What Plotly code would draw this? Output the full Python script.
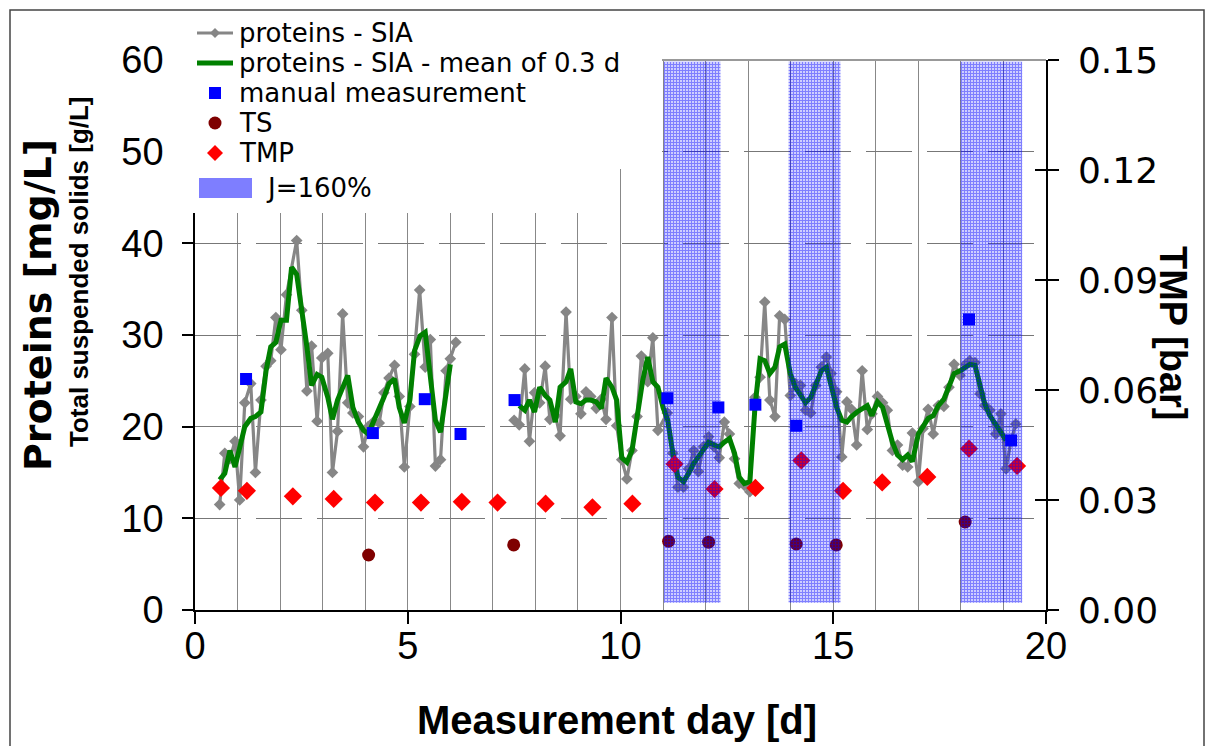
import plotly.graph_objects as go

# ---------------- data ----------------
sia_day = [0.58, 0.70, 0.82, 0.94, 1.05, 1.17, 1.31, 1.42, 1.55, 1.67, 1.78, 1.90, 2.02, 2.15,
           2.39, 2.51, 2.63, 2.74, 2.87, 2.98, 3.12, 3.23, 3.35, 3.47, 3.59, 3.71, 3.84, 3.96,
           4.07, 4.19, 4.33, 4.44, 4.56, 4.69, 4.80, 4.92, 5.05, 5.16, 5.28, 5.41, 5.53, 5.65,
           5.77, 5.90, 6.00, 6.13, None,
           7.50, 7.62, 7.75, 7.86, 7.98, 8.10, 8.23, 8.34, 8.47, 8.58, 8.72, 8.83, 8.95, 9.07,
           9.19, 9.30, 9.43, 9.55, 9.66, 9.80, 9.91, 10.03, 10.15, 10.27, 10.39, 10.49, 10.64,
           10.76, 10.88, 11.10, 11.23, 11.35, 11.48, 11.60, 11.72, 11.83, 11.95, 12.07, 12.20,
           12.32, 12.44, 12.56, 12.68, 12.79, 12.91, 13.04, 13.16, 13.28, 13.39, 13.51, 13.63,
           13.74, 13.86, 13.99, 14.11, 14.23, 14.35, 14.47, 14.59, 14.72, 14.84, 14.95, 15.08,
           15.20, 15.32, 15.43, 15.55, 15.68, 15.80, 15.91, 16.04, 16.16, 16.27, 16.39, 16.51,
           16.63, 16.75, 16.86, 17.00, 17.11, 17.23, 17.35, 17.47, 17.60, 17.72, 17.84, 17.98,
           18.11, 18.21, 18.33, 18.45, 18.56, 18.68, 18.82, 18.94, 19.06, 19.18, 19.29]
sia_val = [11.5, 17.1, 16.5, 18.4, 12.0, 22.6, 24.7, 15.0, 22.9, 26.6, 27.2, 31.9, 28.4, 34.4,
           40.3, 32.7, 23.9, 28.8, 20.6, 27.5, 28.0, 15.0, 19.5, 32.3, 22.6, 21.5, 21.1, 17.8,
           20.0, 20.5, 20.4, 23.7, 25.3, 26.7, 23.3, 15.6, 22.2, 27.9, 34.9, 26.5, 29.5, 15.7,
           16.4, 26.1, 27.4, 29.2, None,
           20.7, 20.2, 26.3, 18.4, 23.7, 22.6, 26.6, 20.8, 21.2, 19.0, 32.5, 23.0, 23.3, 21.4,
           23.8, 23.3, 22.0, 23.0, 20.8, 31.9, 20.1, 16.4, 14.3, 17.4, 21.1, 27.7, 24.9,
           29.7, 19.6, 21.5, 17.1, 13.4, 13.4, 15.4, 17.4, 15.1, 17.8, 18.9, 17.8,
           16.6, 20.5, 19.2, 16.5, 13.8, 13.6, 12.9, 23.2, 25.4, 33.6, 22.9, 21.1,
           32.1, 31.7, 23.4, 24.7, 24.5, 21.8, 21.5, 24.5, 26.5, 27.6, 25.8, 23.8,
           16.7, 22.7, 21.9, 18.0, 26.1, 19.7, 21.4, 23.3, 22.6, 21.8, 17.4, 18.0,
           15.8, 15.6, 19.3, 14.0, 19.8, 21.9, 19.2, 22.3, 22.2, 24.3, 26.8, 25.6,
           26.8, 27.2, 27.0, 23.6, 22.3, 21.8, 19.2, 21.4, 15.4, 18.5, 20.3]

mean_day = [0.58, 0.70, 0.82, 0.94, 1.17, 1.31, 1.42, 1.55, 1.67, 1.78, 1.90, 2.02, 2.15, 2.27,
            2.39, 2.51, 2.63, 2.74, 2.87, 2.98, 3.12, 3.23, 3.35, 3.59, 3.71, 3.84, 3.96, 4.07,
            4.19, 4.33, 4.44, 4.56, 4.69, 4.80, 4.92, 5.05, 5.16, 5.29, 5.41, 5.65, 5.77, 5.90,
            6.00, None,
            7.62, 7.75, 7.86, 7.98, 8.10, 8.23, 8.34, 8.47, 8.58, 8.72, 8.83, 8.95, 9.07, 9.19,
            9.30, 9.43, 9.55, 9.66, 9.80, 9.91, 10.03, 10.15, 10.27, 10.39, 10.52, 10.64, 10.76,
            10.88, 11.00, 11.11, 11.23, 11.35, 11.48, 11.60, 11.72, 11.83, 11.95, 12.07, 12.20,
            12.32, 12.44, 12.56, 12.68, 12.79, 12.91, 13.04, 13.16, 13.28, 13.39, 13.51, 13.63,
            13.74, 13.86, 13.99, 14.11, 14.35, 14.47, 14.59, 14.72, 14.84, 14.95, 15.08, 15.20,
            15.32, 15.43, 15.56, 15.80, 15.91, 16.04, 16.16, 16.39, 16.51, 16.63, 16.75, 16.86,
            17.00, 17.11, 17.23, 17.35, 17.47, 17.60, 17.72, 17.84, 17.98, 18.11, 18.21, 18.33,
            18.45, 18.56, 18.68, 18.82, 18.94, 19.06]
mean_val = [14.2, 14.9, 17.4, 15.6, 20.0, 20.9, 21.1, 21.6, 26.1, 28.7, 29.2, 31.6, 31.6, 37.4,
            36.6, 32.8, 28.7, 24.5, 25.7, 25.4, 23.2, 20.8, 22.9, 25.6, 22.1, 20.5, 19.6, 19.2,
            20.5, 21.8, 23.2, 24.7, 25.2, 22.1, 20.4, 22.9, 28.3, 29.9, 30.3, 20.7, 19.4, 23.6,
            26.8, None,
            22.3, 21.8, 22.9, 21.6, 24.3, 23.4, 22.9, 20.5, 24.3, 24.9, 26.3, 22.7, 22.5, 22.9,
            22.9, 22.7, 22.0, 25.3, 24.3, 22.9, 16.6, 16.1, 17.4, 21.4, 25.0, 27.6, 24.9,
            24.3, 22.1, 20.7, 17.1, 14.5, 14.0, 14.9, 16.0, 16.7, 17.4, 18.3, 18.0,
            17.8, 18.3, 18.7, 17.1, 14.5, 13.8, 14.0, 22.1, 27.4, 27.2, 25.8, 26.5,
            28.7, 29.0, 25.8, 24.3, 22.6, 23.2, 24.7, 26.1, 26.5, 24.7, 22.1, 20.7,
            20.5, 21.1, 21.6, 22.3, 21.2, 22.7, 22.1, 18.3, 16.9, 16.4, 16.9, 16.2,
            19.2, 20.0, 20.9, 21.2, 22.3, 23.0, 24.3, 25.8, 26.1, 26.5, 26.8, 26.7,
            24.3, 22.5, 21.2, 20.3, 19.4, 18.5]

manual_day = [1.20, 4.18, 5.40, 6.24, 7.51, 11.10, 12.30, 13.17, 14.13, 18.19, 19.18]
manual_val = [25.2, 19.3, 23.0, 19.2, 22.9, 23.1, 22.1, 22.4, 20.1, 31.7, 18.5]

ts_day = [4.08, 7.49, 11.13, 12.07, 14.13, 15.07, 18.10]
ts_val = [6.0, 7.1, 7.5, 7.4, 7.2, 7.1, 9.6]

tmp_day = [0.61, 1.22, 2.30, 3.26, 4.23, 5.31, 6.27, 7.11, 8.24, 9.34, 10.28, 11.27, 12.21,
           13.17, 14.25, 15.23, 16.15, 17.21, 18.19, 19.32]
tmp_val = [0.0333, 0.0325, 0.0310, 0.0303, 0.0293, 0.0293, 0.0295, 0.0293, 0.0290, 0.0280,
           0.0290, 0.0398, 0.0330, 0.0333, 0.0408, 0.0325, 0.0348, 0.0363, 0.0440, 0.0393]

# periods with J = 160 %
j_start = [11.02, 13.95, 17.99]
j_end = [12.35, 15.17, 19.44]
j_low = 0.8
j_high = 59.8

x_ticks = [0, 5, 10, 15, 20]
y_ticks = [0, 10, 20, 30, 40, 50, 60]
y2_ticks = [0.00, 0.03, 0.06, 0.09, 0.12, 0.15]

# ---------------- layout helpers (screen px -> paper) ----------------
OFF = 8                      # default page margin of the html body
W, H = 1205, 738
ML, MT, PW, PH = 187, 52, 851, 550
MR, MB = W - ML - PW, H - MT - PH
FONT = "Liberation Sans, Arial, sans-serif"
FONT_W = "DejaVu Sans, Verdana, sans-serif"


def px(x):
    return (x - OFF - ML) / PW


def py(y):
    return (MT + PH - (y - OFF)) / PH


fig = go.Figure()

fig.add_trace(go.Scatter(
    x=sia_day, y=sia_val, mode="lines+markers", name="proteins - SIA",
    line=dict(color="#868686", width=3.2),
    marker=dict(symbol="diamond", size=9, color="#868686"),
    connectgaps=False, showlegend=False))
fig.add_trace(go.Scatter(
    x=mean_day, y=mean_val, mode="lines", name="proteins - SIA - mean of 0.3 d",
    line=dict(color="#008000", width=5), connectgaps=False, showlegend=False))
fig.add_trace(go.Scatter(
    x=manual_day, y=manual_val, mode="markers", name="manual measurement",
    marker=dict(symbol="square", size=12, color="#0000ff"), showlegend=False))
fig.add_trace(go.Scatter(
    x=ts_day, y=ts_val, mode="markers", name="TS",
    marker=dict(symbol="circle", size=13, color="#7f0000"), showlegend=False))
fig.add_trace(go.Scatter(
    x=tmp_day, y=tmp_val, mode="markers", name="TMP", yaxis="y2",
    marker=dict(symbol="diamond", size=14, color="#ff0000"), showlegend=False))

j_mid = [(a + b) / 2 for a, b in zip(j_start, j_end)]
j_wid = [b - a for a, b in zip(j_start, j_end)]
fig.add_trace(go.Bar(
    x=j_mid, y=[j_high - j_low] * len(j_mid), base=j_low, width=j_wid, yaxis="y3",
    name="J=160%", showlegend=False, hoverinfo="skip",
    marker=dict(color="rgba(0,0,0,0)", line=dict(width=0),
                pattern=dict(shape="+", fgcolor="#0000ff", bgcolor="rgba(0,0,0,0)",
                             size=3, solidity=0.7))))

tickfont = dict(family=FONT, size=38, color="black")
tickfont_r = dict(family=FONT_W, size=36, color="black")
fig.update_layout(
    width=W, height=H, margin=dict(l=ML, r=MR, t=MT, b=MB, autoexpand=False),
    paper_bgcolor="white", plot_bgcolor="white", showlegend=False,
    font=dict(family=FONT, color="black"),
    xaxis=dict(range=[0, 20], tickvals=x_ticks, showline=True, linecolor="black", linewidth=1.5,
               ticks="outside", ticklen=12, tickcolor="black", tickwidth=1.5,
               tickfont=tickfont, ticklabelstandoff=-10,
               showgrid=True, gridcolor="#888888", gridwidth=1,
               minor=dict(dtick=1, tick0=0, showgrid=True, gridcolor="#888888", gridwidth=1),
               zeroline=False),
    yaxis=dict(range=[0, 60], tickvals=y_ticks, showline=True, linecolor="black", linewidth=1.5,
               ticks="outside", ticklen=11, tickcolor="black", tickwidth=1.5,
               tickfont=tickfont, ticklabelstandoff=11,
               showgrid=True, gridcolor="#777777", gridwidth=1, griddash="46px,15px",
               zeroline=False),
    yaxis2=dict(range=[0, 0.15], tickvals=y2_ticks, tickformat=".2f", overlaying="y",
                side="right", showline=True, linecolor="black", linewidth=1.5,
                ticks="outside", ticklen=11, tickcolor="black", tickwidth=1.5,
                tickfont=tickfont_r, ticklabelstandoff=12, showgrid=False, zeroline=False),
    yaxis3=dict(range=[0, 60], overlaying="y", visible=False),
    yaxis4=dict(range=[0, 0.15], tickvals=y2_ticks, overlaying="y", side="right",
                showline=False, ticks="inside", ticklen=11, tickcolor="black", tickwidth=1.5,
                showticklabels=False, showgrid=False, zeroline=False),
)
# empty trace so that yaxis4 (inner tick marks of the right axis) is drawn
fig.add_trace(go.Scatter(x=[None], y=[None], yaxis="y4", showlegend=False, hoverinfo="skip"))

shapes = []
# top frame line of plot area
shapes.append(dict(type="line", xref="paper", yref="paper", x0=0, x1=1, y0=1, y1=1,
                   line=dict(color="#999999", width=2), layer="above"))
# white legend background
shapes.append(dict(type="rect", xref="paper", yref="paper", x0=px(176), x1=px(662),
                   y0=py(169), y1=py(12), fillcolor="white", line=dict(width=0), layer="above"))
shapes.append(dict(type="rect", xref="paper", yref="paper", x0=px(176), x1=px(615),
                   y0=py(213), y1=py(168), fillcolor="white", line=dict(width=0), layer="above"))
# outer frame
shapes.append(dict(type="rect", xref="paper", yref="paper", x0=px(10), x1=px(1204),
                   y0=py(770), y1=py(10), line=dict(color="#444444", width=1.5),
                   fillcolor="rgba(0,0,0,0)", layer="above"))

# legend rows (screen y centres)
rows = [33, 63, 93, 123, 153, 188]
shapes.append(dict(type="line", xref="paper", yref="paper", x0=px(197), x1=px(233),
                   y0=py(rows[0]), y1=py(rows[0]), line=dict(color="#868686", width=3),
                   layer="above"))
cx, cy, r = 215, rows[0], 5
shapes.append(dict(type="path", xref="paper", yref="paper", layer="above",
                   path=f"M{px(cx)},{py(cy - r)} L{px(cx + r)},{py(cy)} L{px(cx)},{py(cy + r)} L{px(cx - r)},{py(cy)} Z",
                   fillcolor="#868686", line=dict(width=0)))
shapes.append(dict(type="line", xref="paper", yref="paper", x0=px(197), x1=px(233),
                   y0=py(rows[1]), y1=py(rows[1]), line=dict(color="#008000", width=5),
                   layer="above"))
cy = rows[2]
shapes.append(dict(type="rect", xref="paper", yref="paper", x0=px(209), x1=px(221),
                   y0=py(cy + 6), y1=py(cy - 6), fillcolor="#0000ff", line=dict(width=0),
                   layer="above"))
cy = rows[3]
shapes.append(dict(type="circle", xref="paper", yref="paper", x0=px(208.5), x1=px(221.5),
                   y0=py(cy + 6.5), y1=py(cy - 6.5), fillcolor="#7f0000", line=dict(width=0),
                   layer="above"))
cx, cy, r = 215, rows[4], 8
shapes.append(dict(type="path", xref="paper", yref="paper", layer="above",
                   path=f"M{px(cx)},{py(cy - r)} L{px(cx + r)},{py(cy)} L{px(cx)},{py(cy + r)} L{px(cx - r)},{py(cy)} Z",
                   fillcolor="#ff0000", line=dict(width=0)))
cy = rows[5]
shapes.append(dict(type="rect", xref="paper", yref="paper", x0=px(199), x1=px(252),
                   y0=py(cy + 10), y1=py(cy - 10), fillcolor="#7e7eff", line=dict(width=0),
                   layer="above"))
fig.update_layout(shapes=shapes)

ann = []
leg_font = dict(family=FONT_W, size=26, color="black")
for text, yc, xl in [("proteins - SIA", rows[0], 238),
                     ("proteins - SIA - mean of 0.3 d", rows[1], 238),
                     ("manual measurement", rows[2], 238), ("TS", rows[3], 238),
                     ("TMP", rows[4], 238), ("J=160%", rows[5], 265)]:
    ann.append(dict(text=text, x=px(xl), y=py(yc), xref="paper", yref="paper",
                    xanchor="left", yanchor="middle", showarrow=False, font=leg_font,
                    borderpad=0))
ann.append(dict(text="Measurement day [d]", x=px(617), y=py(720), xref="paper", yref="paper",
                xanchor="center", yanchor="middle", showarrow=False,
                font=dict(family=FONT, size=40, color="black", weight="bold")))
ann.append(dict(text="Proteins [mg/L]", x=px(38), y=py(305), xref="paper", yref="paper",
                xanchor="center", yanchor="middle", showarrow=False, textangle=-90,
                font=dict(family=FONT_W, size=38, color="black", weight="bold")))
ann.append(dict(text="Total suspended solids [g/L]", x=px(79), y=py(272), xref="paper",
                yref="paper", xanchor="center", yanchor="middle", showarrow=False, textangle=-90,
                font=dict(family=FONT, size=26, color="black", weight="bold")))
ann.append(dict(text="TMP [bar]", x=px(1173), y=py(333), xref="paper", yref="paper",
                xanchor="center", yanchor="middle", showarrow=False, textangle=90,
                font=dict(family=FONT, size=38, color="black", weight="bold")))
fig.update_layout(annotations=ann)

fig.write_html("out.html")
